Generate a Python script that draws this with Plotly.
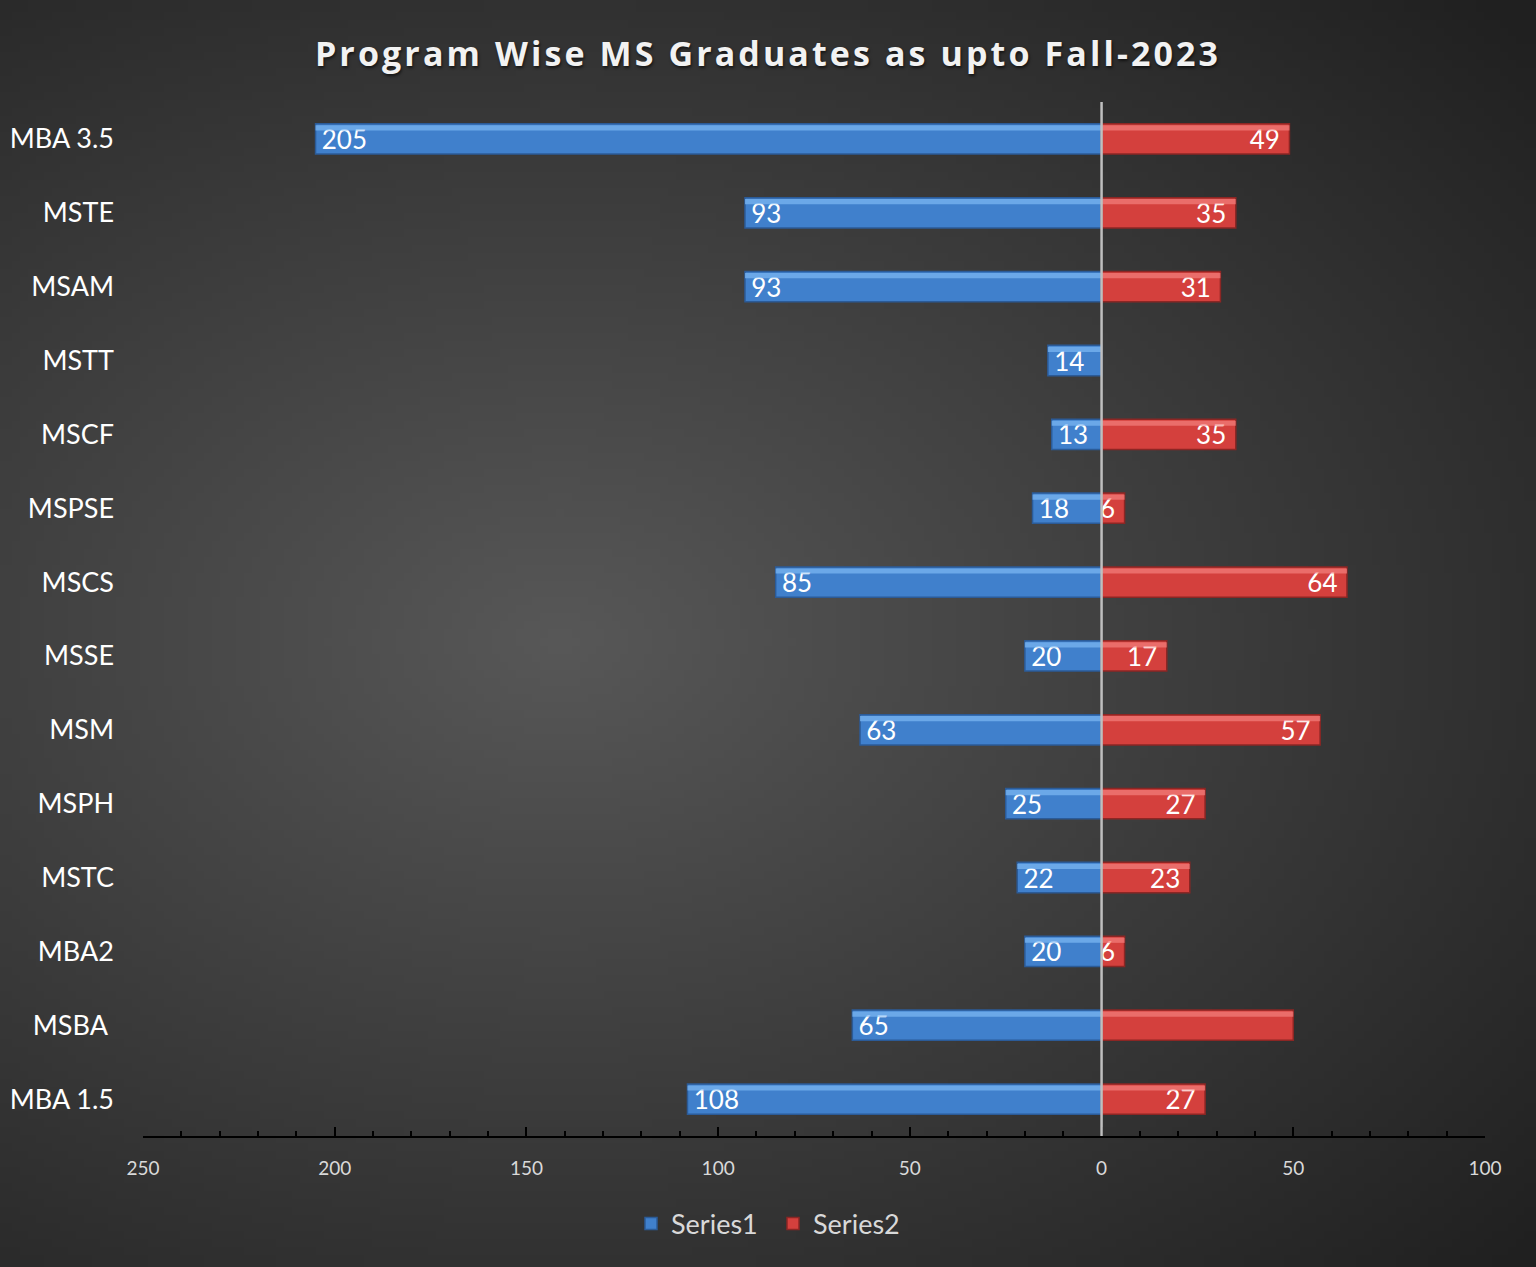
import base64, struct, zlib
import numpy as np
import plotly.graph_objects as go

# ---------------- data ----------------
categories = ["MBA 3.5", "MSTE", "MSAM", "MSTT", "MSCF", "MSPSE", "MSCS",
              "MSSE", "MSM", "MSPH", "MSTC", "MBA2", "MSBA\u00a0", "MBA 1.5"]
series1 = [205, 93, 93, 14, 13, 18, 85, 20, 63, 25, 22, 20, 65, 108]
series2 = [49, 35, 31, None, 35, 6, 64, 17, 57, 27, 23, 6, 50, 27]
series2_labels = ["49", "35", "31", "", "35", "6", "64", "17", "57", "27", "23", "6", "", "27"]
tick_vals = [-250, -200, -150, -100, -50, 0, 50, 100]
tick_text = ["250", "200", "150", "100", "50", "0", "50", "100"]
title_text = "Program Wise MS Graduates as upto Fall-2023"

series1_neg = [-v for v in series1]
series1_labels = [str(v) for v in series1]

# ---------------- layout geometry ----------------
W, H = 1536, 1267
ML, MR, MT, MB = 143, 51, 102, 131
PW, PH = W - ML - MR, H - MT - MB

# ---------------- radial gradient background (png) ----------------
def make_png(w, h):
    xs = (np.arange(w) + 0.5) / w * W
    ys = (np.arange(h) + 0.5) / h * H
    X, Y = np.meshgrid(xs, ys)
    r = np.sqrt(((X - 560) / 1300.0) ** 2 + ((Y - 640) / 900.0) ** 2)
    g = np.clip(88 - 55 * r, 32, 255).astype(np.uint8)
    raw = b"".join(b"\x00" + g[i].tobytes() for i in range(h))
    def chunk(t, d):
        c = struct.pack(">I", len(d)) + t + d
        return c + struct.pack(">I", zlib.crc32(t + d) & 0xffffffff)
    png = b"\x89PNG\r\n\x1a\n" + chunk(b"IHDR", struct.pack(">IIBBBBB", w, h, 8, 0, 0, 0, 0)) \
        + chunk(b"IDAT", zlib.compress(raw, 9)) + chunk(b"IEND", b"")
    return "data:image/png;base64," + base64.b64encode(png).decode()

bg = make_png(192, 158)

BLUE, BLUE_HI, BLUE_LINE = "#4080cc", "#7ab6f2", "#2b5b98"
RED, RED_HI, RED_LINE = "#d4403d", "#f27c7a", "#8c2624"
BW = 0.41
LABEL_FONT = "Lato, Open Sans, sans-serif"

fig = go.Figure()
fig.add_trace(go.Bar(
    y=categories, x=series1_neg, orientation="h", name="Series1",
    marker=dict(color=BLUE, line=dict(color=BLUE_LINE, width=1.5)),
    width=BW, text=series1_labels, texttemplate="\u2009%{text}",
    textposition="inside", insidetextanchor="end",
    constraintext="none", textangle=0,
    textfont=dict(family=LABEL_FONT, size=26, color="white"),
    hoverinfo="skip",
))
fig.add_trace(go.Bar(
    y=categories, x=series2, orientation="h", name="Series2",
    marker=dict(color=RED, line=dict(color=RED_LINE, width=1.5)),
    width=BW, text=series2_labels, texttemplate="%{text}\u2009\u2009",
    textposition="inside", insidetextanchor="end",
    constraintext="none", textangle=0,
    textfont=dict(family=LABEL_FONT, size=26, color="white"),
    hoverinfo="skip",
))
# highlight strips (bevel look)
fig.add_trace(go.Bar(
    y=categories, x=series1_neg, orientation="h", showlegend=False,
    marker=dict(color=BLUE_HI, line=dict(width=0)), opacity=0.75,
    width=0.07, offset=-0.185, hoverinfo="skip",
))
fig.add_trace(go.Bar(
    y=categories, x=series2, orientation="h", showlegend=False,
    marker=dict(color=RED_HI, line=dict(width=0)), opacity=0.75,
    width=0.07, offset=-0.185, hoverinfo="skip",
))

fig.update_layout(
    width=W, height=H, autosize=False,
    margin=dict(l=ML, r=MR, t=MT, b=MB, autoexpand=False),
    barmode="overlay",
    paper_bgcolor="#333333",
    plot_bgcolor="rgba(0,0,0,0)",
    title=dict(text='<span style="letter-spacing:3.1px">' + title_text + '</span>',
               x=0.5, xref="container", xanchor="center", y=1 - 54 / H, yanchor="middle",
               font=dict(family="Open Sans, sans-serif", size=34, color="#f2f2f2", weight="bold",
                         shadow="1px 2px 3px rgba(0,0,0,0.6)")),
    legend=dict(orientation="h", x=(773 - ML) / PW, xanchor="center",
                y=-(1224 - 1136) / PH, yanchor="middle",
                font=dict(family=LABEL_FONT, size=27, color="#d9d9d9"),
                bgcolor="rgba(0,0,0,0)", itemwidth=30,
                entrywidth=97, entrywidthmode="pixels"),
    images=[dict(source=bg, xref="paper", yref="paper", x=-ML / PW, y=1 + MT / PH,
                 sizex=W / PW, sizey=H / PH, sizing="stretch", layer="below",
                 xanchor="left", yanchor="top")],
    shapes=[dict(type="line", xref="x", yref="paper", x0=0, x1=0, y0=0, y1=1,
                 line=dict(color="#bfbfbf", width=2.5), layer="above")],
    showlegend=True,
)
fig.update_xaxes(
    range=[-250, 100], tickvals=tick_vals, ticktext=tick_text,
    showgrid=False, zeroline=False, showline=True, linecolor="black", linewidth=2,
    ticks="inside", ticklen=9, tickwidth=1.5, tickcolor="black",
    minor=dict(dtick=10, tick0=0, ticks="inside", ticklen=5, tickwidth=1.5, tickcolor="black"),
    tickfont=dict(family=LABEL_FONT, size=19, color="#d9d9d9"),
    ticklabelstandoff=14,
)
fig.update_yaxes(
    autorange="reversed", showgrid=False, zeroline=False, showline=False, ticks="",
    tickfont=dict(family=LABEL_FONT, size=27, color="white"),
    ticklabelstandoff=28,
)

fig.write_html("out.html", config={"displayModeBar": False},
               post_script="document.body.style.margin='0px';document.body.style.background='#333';")
